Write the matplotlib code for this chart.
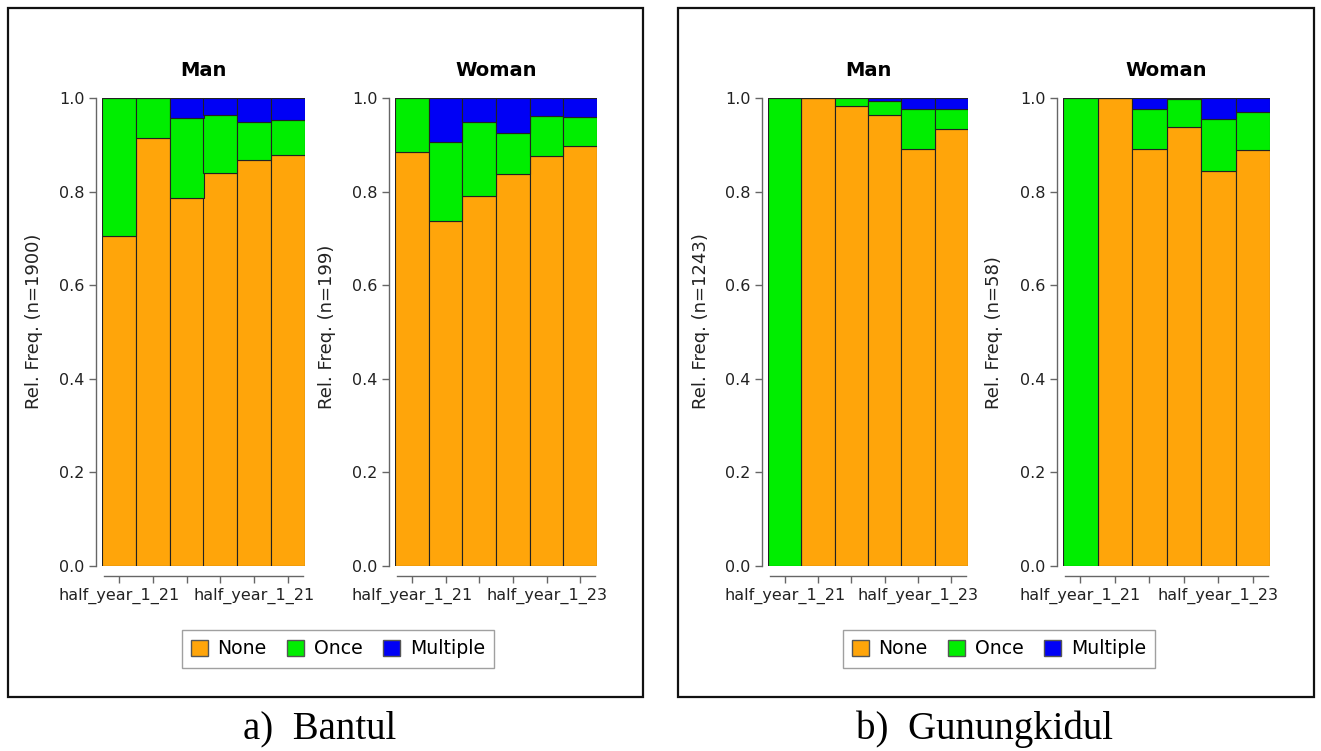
import numpy as np
import matplotlib
matplotlib.use("Agg")
import matplotlib.pyplot as plt
from matplotlib.patches import Rectangle, Patch

# categories (only 1st and 5th label is shown on the axis)
periods = ["half_year_1_21", "half_year_2_21", "half_year_1_22",
           "half_year_2_22", "half_year_1_23", "half_year_2_23"]
shown_a_man = ["half_year_1_21", "", "", "", "half_year_1_21", ""]
shown_other = ["half_year_1_21", "", "", "", "half_year_1_23", ""]

# Bantul
bantul_man_none = [0.705, 0.914, 0.787, 0.840, 0.868, 0.878]
bantul_man_once = [0.295, 0.086, 0.171, 0.124, 0.081, 0.074]
bantul_man_mult = [0.000, 0.000, 0.042, 0.036, 0.051, 0.048]

bantul_woman_none = [0.884, 0.737, 0.790, 0.838, 0.877, 0.897]
bantul_woman_once = [0.116, 0.170, 0.158, 0.088, 0.085, 0.063]
bantul_woman_mult = [0.000, 0.093, 0.052, 0.074, 0.038, 0.040]

# Gunungkidul
gunung_man_none = [0.000, 1.000, 0.982, 0.964, 0.892, 0.934]
gunung_man_once = [1.000, 0.000, 0.018, 0.030, 0.084, 0.042]
gunung_man_mult = [0.000, 0.000, 0.000, 0.006, 0.024, 0.024]

gunung_woman_none = [0.000, 1.000, 0.892, 0.937, 0.843, 0.888]
gunung_woman_once = [1.000, 0.000, 0.084, 0.061, 0.113, 0.083]
gunung_woman_mult = [0.000, 0.000, 0.024, 0.002, 0.044, 0.029]

c_none = '#FFA50A'
c_once = '#00EE00'
c_mult = '#0000F5'

W, H = 1321, 751
fig = plt.figure(figsize=(13.21, 7.51), dpi=100)


def px_axes(x0, x1, y_top, y_bot):
    return fig.add_axes([x0 / W, 1 - y_bot / H, (x1 - x0) / W, (y_bot - y_top) / H])


def draw_panel(ax, none, once, mult, title, ylab, labels):
    x = np.arange(len(none))
    none = np.array(none)
    once = np.array(once)
    mult = np.array(mult)
    kw = dict(width=1.0, edgecolor='#222222', linewidth=0.8)
    ax.bar(x, none, color=c_none, **kw)
    ax.bar(x, once, bottom=none, color=c_once, **kw)
    ax.bar(x, mult, bottom=none + once, color=c_mult, **kw)
    ax.set_xlim(-0.5, 5.5)
    ax.set_ylim(0, 1.0)
    for s in ['top', 'right']:
        ax.spines[s].set_visible(False)
    ax.spines['left'].set_position(('outward', 4))
    ax.spines['bottom'].set_position(('outward', 7))
    ax.spines['left'].set_bounds(0, 1)
    ax.spines['bottom'].set_bounds(-0.45, 5.45)
    for s in ['left', 'bottom']:
        ax.spines[s].set_color('#666666')
        ax.spines[s].set_linewidth(1.0)
    ax.set_yticks([0, 0.2, 0.4, 0.6, 0.8, 1.0])
    ax.set_yticklabels(['0.0', '0.2', '0.4', '0.6', '0.8', '1.0'])
    ax.set_xticks(x)
    ax.set_xticklabels(labels)
    ax.tick_params(axis='both', labelsize=11.5, colors='#666666',
                   labelcolor='#222222', length=5, width=1.0)
    ax.set_title(title, fontsize=14, fontweight='bold', pad=16)
    ax.set_ylabel(ylab, fontsize=13, color='#222222')
    # label starts near the bottom (at about 0.34 of the axis height)
    ax.yaxis.label.set_horizontalalignment('left')
    ax.yaxis.set_label_coords(-0.29, 0.335)


ax1 = px_axes(102, 305, 98, 566)
draw_panel(ax1, bantul_man_none, bantul_man_once, bantul_man_mult,
           "Man", "Rel. Freq. (n=1900)", shown_a_man)
ax2 = px_axes(395, 597, 98, 566)
draw_panel(ax2, bantul_woman_none, bantul_woman_once, bantul_woman_mult,
           "Woman", "Rel. Freq. (n=199)", shown_other)
ax3 = px_axes(768, 968, 98, 566)
draw_panel(ax3, gunung_man_none, gunung_man_once, gunung_man_mult,
           "Man", "Rel. Freq. (n=1243)", shown_other)
ax4 = px_axes(1063, 1270, 98, 566)
draw_panel(ax4, gunung_woman_none, gunung_woman_once, gunung_woman_mult,
           "Woman", "Rel. Freq. (n=58)", shown_other)

# boxes around the two panels
for x0, x1 in [(8, 643), (678, 1314)]:
    fig.add_artist(Rectangle((x0 / W, 1 - 697 / H), (x1 - x0) / W, (697 - 8) / H,
                             transform=fig.transFigure, fill=False,
                             edgecolor='#111111', linewidth=1.6))

handles = [Patch(facecolor=c_none, edgecolor='#555555', label='None'),
           Patch(facecolor=c_once, edgecolor='#555555', label='Once'),
           Patch(facecolor=c_mult, edgecolor='#555555', label='Multiple')]
for cx in [338, 999]:
    leg = fig.legend(handles=handles, loc='center', bbox_to_anchor=(cx / W, 1 - 649 / H),
                     ncol=3, fontsize=13.6, frameon=True, fancybox=False,
                     handlelength=0.9, handleheight=0.9, handletextpad=0.5,
                     columnspacing=1.1, borderpad=0.5)
    leg.get_frame().set_edgecolor('#888888')
    leg.get_frame().set_linewidth(1.0)

fig.text(320 / W, 1 - 729 / H, "a)  Bantul", ha='center', va='center',
         fontsize=28, family='Liberation Serif')
fig.text(985 / W, 1 - 729 / H, "b)  Gunungkidul", ha='center', va='center',
         fontsize=28, family='Liberation Serif')

fig.savefig("out.png", dpi=100)
